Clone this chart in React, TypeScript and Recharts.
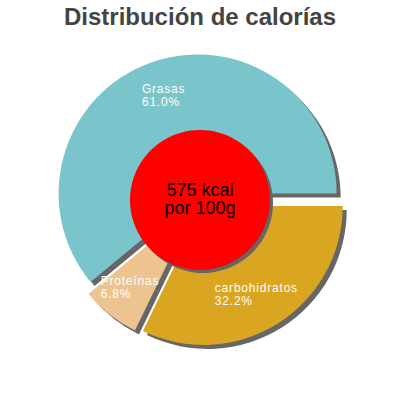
import { PieChart, Pie, Cell, Sector } from "recharts";

const categories = ["Grasas", "Proteínas", "carbohidratos"];
const shares = [61.0, 6.8, 32.2];
const sliceColors = ["#7AC4CC", "#EDC48F", "#DAA520"];
const centerLines = ["575 kcal", "por 100g"];
const title = "Distribución de calorías";

const data = categories.map((name, i) => ({ name, value: shares[i] }));
const centerData = [{ name: "total", value: 1 }];

const RAD = Math.PI / 180;
const EXPLODE = 7;
const SHADOW = 4;
const FONT = "'Liberation Sans', Arial, sans-serif";

// shift a sector outward along its mid angle (plus an optional shadow offset)
const exploded = (extra: number, color?: string) => (props: any) => {
  const { cx, cy, midAngle } = props;
  const dx = EXPLODE * Math.cos(-midAngle * RAD) + extra;
  const dy = EXPLODE * Math.sin(-midAngle * RAD) + extra;
  return (
    <Sector
      {...props}
      cx={cx + dx}
      cy={cy + dy}
      fill={color ?? props.fill}
      stroke="none"
    />
  );
};

const shifted = (extra: number) => (props: any) => (
  <Sector {...props} cx={props.cx + extra} cy={props.cy + extra} stroke="none" />
);

const renderLabel = (props: any) => {
  const { cx, cy, midAngle, outerRadius, name, value } = props;
  const c = Math.cos(-midAngle * RAD);
  const s = Math.sin(-midAngle * RAD);
  const r = outerRadius * 0.75;
  const px = cx + EXPLODE * c + r * c;
  const py = cy + EXPLODE * s + r * s;
  const pct = `${value.toFixed(1)}%`;
  const width = Math.max(name.length, pct.length) * 6.8;
  const x = px - width / 2;
  const style = { fill: "#fff", fontSize: 12, fontFamily: FONT, letterSpacing: 0.8 };
  return (
    <g>
      <text x={x} y={py - 2.5} {...style}>{name}</text>
      <text x={x} y={py + 10.5} {...style}>{pct}</text>
    </g>
  );
};

const renderCenter = (props: any) => {
  const { cx, cy } = props;
  const style = { fill: "#000", fontSize: 18, fontFamily: FONT };
  return (
    <g>
      <text x={cx} y={cy - 4} textAnchor="middle" {...style}>{centerLines[0]}</text>
      <text x={cx} y={cy + 14} textAnchor="middle" {...style}>{centerLines[1]}</text>
    </g>
  );
};

export default function App() {
  return (
    <div style={{ position: "absolute", left: 0, top: 0, width: 400, height: 400, background: "#fff" }}>
      <div
        style={{
          position: "absolute",
          left: 0,
          top: 5,
          width: 400,
          textAlign: "center",
          fontFamily: FONT,
          fontWeight: "bold",
          fontSize: 24,
          lineHeight: "24px",
          color: "#444",
        }}
      >
        {title}
      </div>
      <PieChart width={400} height={400} margin={{ top: 0, right: 0, bottom: 0, left: 0 }}>
        {/* slice shadows */}
        <Pie
          data={data}
          dataKey="value"
          cx="50%"
          cy="50%"
          outerRadius={139}
          startAngle={0}
          endAngle={360}
          stroke="none"
          isAnimationActive={false}
          shape={exploded(SHADOW, "#666")}
          inactiveShape={exploded(SHADOW, "#666")}
        >
          {data.map((d) => (
            <Cell key={d.name} fill="#666" />
          ))}
        </Pie>
        <Pie
          data={data}
          dataKey="value"
          cx="50%"
          cy="50%"
          outerRadius={139}
          startAngle={0}
          endAngle={360}
          stroke="none"
          isAnimationActive={false}
          shape={exploded(0)}
          inactiveShape={exploded(0)}
          label={renderLabel}
          labelLine={false}
        >
          {data.map((d, i) => (
            <Cell key={d.name} fill={sliceColors[i]} />
          ))}
        </Pie>
        {/* centre disc and its shadow */}
        <Pie
          data={centerData}
          dataKey="value"
          cx="50%"
          cy="50%"
          outerRadius={70}
          stroke="none"
          fill="#666"
          isAnimationActive={false}
          shape={shifted(3)}
        />
        <Pie
          data={centerData}
          dataKey="value"
          cx="50%"
          cy="50%"
          outerRadius={70}
          stroke="none"
          fill="#FF0000"
          isAnimationActive={false}
          label={renderCenter}
          labelLine={false}
        />
      </PieChart>
    </div>
  );
}
